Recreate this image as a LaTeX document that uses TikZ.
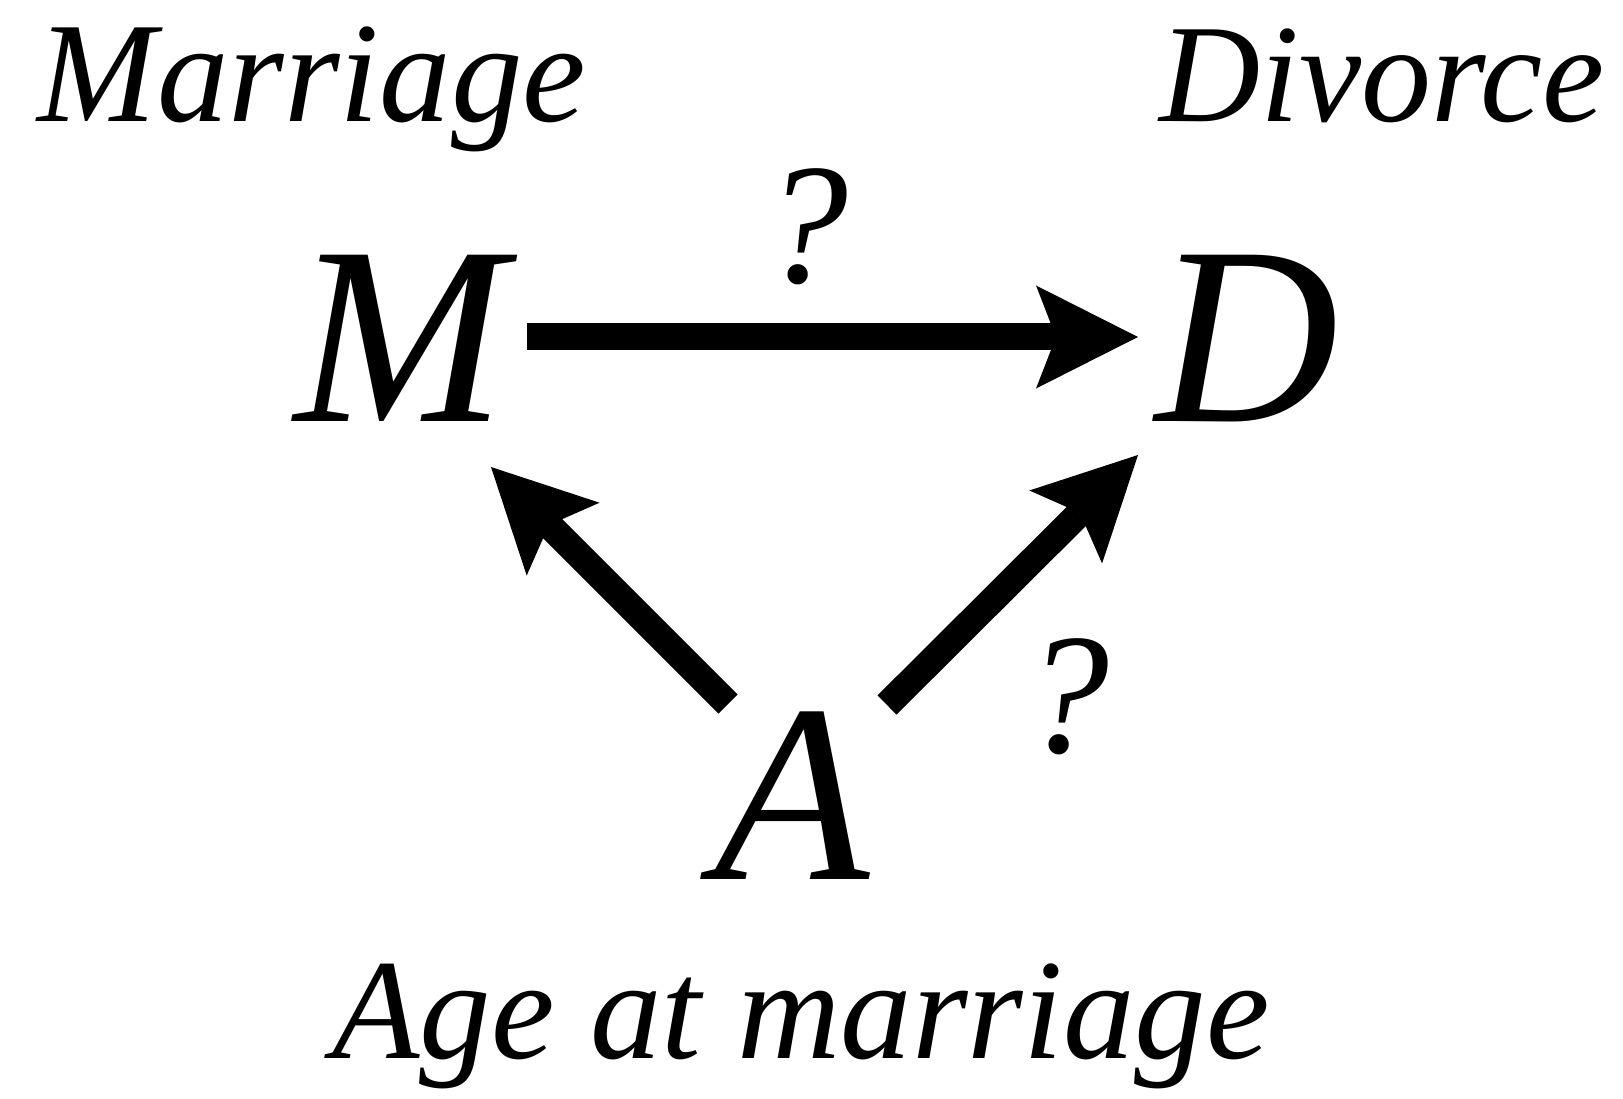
\documentclass[tikz,border=0pt]{standalone}
\usepackage{fontspec}
\setmainfont{Liberation Serif}
\usetikzlibrary{arrows.meta}
\tikzset{
  big/.style={anchor=base, inner sep=0pt, font=\itshape\fontsize{254}{254}\selectfont},
  lab/.style={anchor=base, inner sep=0pt, font=\itshape\fontsize{143}{143}\selectfont},
  qm/.style={anchor=base, inner sep=0pt, font=\itshape\fontsize{172}{172}\selectfont},
  arr/.style={line width=27pt, -{Stealth[length=102pt,width=103pt,inset=20pt,line width=0pt]}}
}
\begin{document}
\begin{tikzpicture}[x=1pt,y=-1pt]
\useasboundingbox[fill=white] (0,0) rectangle (1623,1099);
\node[lab] (lm) at (312,122) {Marriage};
\node[lab,font=\itshape\fontsize{140}{140}\selectfont] (ld) at (1382,122) {Divorce};
\node[big] (M) at (400,421) {M};
\node[big] (D) at (1247,421) {D};
\node[big] (A) at (792,879) {A};
\node[lab] (la) at (801,1058) {Age at marriage};
\node[qm] (q1) at (805,283) {?};
\node[qm] (q2) at (1066,752) {?};
\draw[arr] ([shift={(127,-84)}]M.base) -- ([shift={(-109,-84)}]D.base);
\draw[arr] ([shift={(-64,-175)}]A.base) -- ([shift={(91,46)}]M.base);
\draw[arr] ([shift={(95,-174)}]A.base) -- ([shift={(-109,34)}]D.base);
\end{tikzpicture}
\end{document}
